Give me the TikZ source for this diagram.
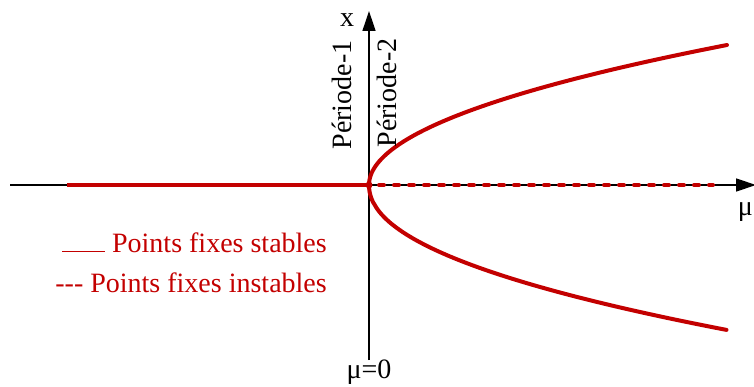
\documentclass[tikz,border=0pt]{standalone}
\usepackage{fontspec}
\setmainfont{Liberation Serif}
\usetikzlibrary{arrows.meta}
\definecolor{cred}{RGB}{195,0,0}
\tikzset{
  axis/.style={line width=1.3pt,-{Triangle[length=20pt,width=13pt]}},
  stable/.style={cred,line width=4pt},
  unstable/.style={cred,line width=4pt,line cap=round,dash pattern=on 5pt off 10pt},
  lbl/.style={font=\fontsize{28}{30}\selectfont,inner sep=0pt},
  leg/.style={lbl,text=cred,anchor=base east}
}
\begin{document}
\begin{tikzpicture}[x=1pt,y=-1pt]
\useasboundingbox (0,0) rectangle (754,387);
\coordinate (O) at (369,185);
\coordinate (L) at (10,185);
\coordinate (R) at (756,185);
\coordinate (B) at (369,360);
\coordinate (T) at (369,11);
\coordinate (S) at (67,185);
\coordinate (U) at (713,185);
\draw[axis] (L) -- (R);
\draw[axis] (B) -- (T);
\draw[stable] (S) -- (O);
\draw[unstable] ([xshift=10pt]O) -- (U);
\draw[stable,line cap=round] plot[domain=1:0,samples=60,smooth] ({369+358*\x*\x},{185-140*\x})
  -- plot[domain=0:1,samples=60,smooth] ({369+358*pow(\x,2.1)},{185+145*\x});
\fill[cred] (O) circle (3.5pt);
\node[lbl] (xl) at (347,20) {x};
\node[lbl,anchor=north east] (mu) at (753,202) {μ};
\node[lbl,anchor=north] (mu0) at (369,360) {μ=0};
\node[lbl,rotate=90,anchor=south] (p1) at (352,95) {Période-1};
\node[lbl,rotate=90,anchor=north] (p2) at (377,93) {Période-2};
\node[leg] (l1) at (327,252) {\rule[0pt]{43pt}{1.3pt} Points fixes stables};
\node[leg] (l2) at (327,292) {{-}{-}{-} Points fixes instables};
\end{tikzpicture}
\end{document}
